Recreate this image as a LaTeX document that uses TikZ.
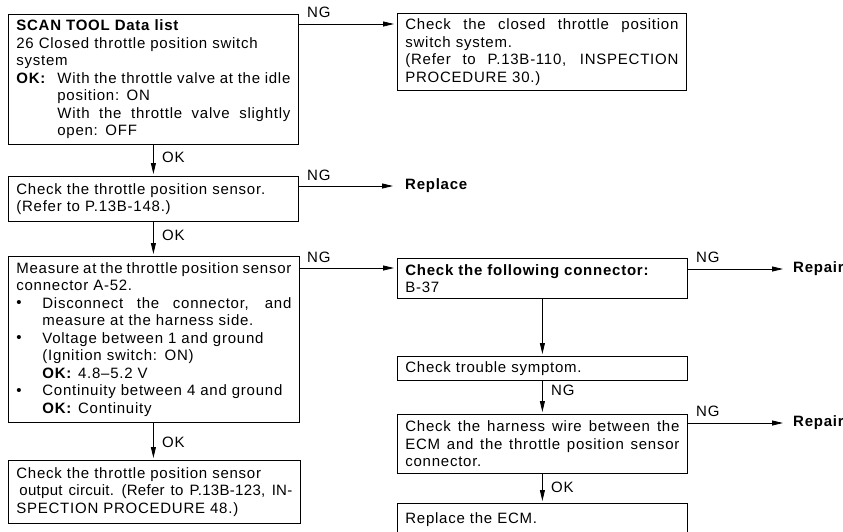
\documentclass[tikz,border=0pt]{standalone}
\usepackage{fontspec}
\setmainfont{Liberation Sans}[LetterSpace=5]
\usetikzlibrary{arrows.meta}
\newcommand\stretchbox[2]{\makebox[#1][s]{\spaceskip=.28em plus 3em minus .1em\relax #2}}
\newcommand\fullline[2][0pt]{\hspace*{#1}\stretchbox{\dimexpr\hsize-#1\relax}{#2}}
\newcommand\bul[1]{\makebox[26pt][l]{\raisebox{0.5pt}{•}}#1}
\tikzset{
  box/.style={draw, line width=0.8pt, anchor=north west, inner xsep=8pt, inner ysep=0pt,
    align=left, font=\fontsize{15}{17.5}\selectfont},
  lab/.style={inner sep=0pt, font=\fontsize{15}{17.5}\selectfont},
  res/.style={inner sep=0pt, anchor=west, font=\fontsize{15}{17.5}\selectfont\bfseries},
  arr/.style={line width=0.8pt, -{Triangle[length=11pt,width=5pt]}},
}
\begin{document}
\begin{tikzpicture}[x=1pt,y=-1pt]
\useasboundingbox (0,0) rectangle (843,531);
\clip (0,0) rectangle (843,531);

% left column
\node[box, text width=274pt, minimum height=130pt] (b1) at (8,14) {%
\textbf{SCAN TOOL Data list}\\
26 Closed throttle position switch\\
system\\
\makebox[41pt][l]{\textbf{OK:}}\stretchbox{\dimexpr\hsize-41pt\relax}{With the throttle valve at the idle}\\
\hspace*{41pt}position: ON\\
\fullline[41pt]{With the throttle valve slightly}\\
\hspace*{41pt}open: OFF};

\node[box, text width=274pt, minimum height=45pt] (b2) at (8,176) {%
Check the throttle position sensor.\\
(Refer to P.13B-148.)};

\node[box, text width=275pt, minimum height=166pt] (b3) at (8,256) {%
\fullline{Measure at the throttle position sensor}\\
connector A-52.\\
\bul{\stretchbox{\dimexpr\hsize-26pt\relax}{Disconnect the connector, and}}\\
\hspace*{26pt}measure at the harness side.\\
\bul{Voltage between 1 and ground}\\
\hspace*{26pt}(Ignition switch: ON)\\
\hspace*{26pt}\textbf{OK:}\hspace{6pt}4.8–5.2 V\\
\bul{Continuity between 4 and ground}\\
\hspace*{26pt}\textbf{OK:}\hspace{6pt}Continuity};

\node[box, text width=276pt, minimum height=63pt] (b8) at (8,460) {%
Check the throttle position sensor\\
{\addfontfeature{LetterSpace=2}\fullline[3pt]{output circuit. (Refer to P.13B-123, IN-}}\\
SPECTION PROCEDURE 48.)};

% right column
\node[box, text width=273pt, minimum height=77pt] (rb1) at (397,13) {%
\fullline{Check the closed throttle position}\\
switch system.\\
\fullline{(Refer to P.13B-110, INSPECTION}\\
PROCEDURE 30.)};

\node[res] (rep1) at (405,186) {Replace};

\node[box, text width=274pt, minimum height=40pt] (rb2) at (397,258) {%
\textbf{Check the following connector:}\\
B-37};

\node[res] (rep2) at (793,269) {Repair};

\node[box, text width=274pt, minimum height=24pt] (rb3) at (397,356) {%
Check trouble symptom.};

\node[box, text width=274pt, minimum height=59pt] (rb4) at (397,414) {%
\fullline{Check the harness wire between the}\\
\fullline{ECM and the throttle position sensor}\\
connector.};

\node[res] (rep3) at (793,423) {Repair};

\node[box, text width=274pt, minimum height=36pt] (rb5) at (397,503) {%
\raisebox{6pt}{Replace the ECM.}};

% horizontal NG connectors
\coordinate (s1) at ([yshift=-10pt]b1.north east);
\draw[arr, shorten >=3pt] (s1) -- (s1 -| rb1.west);
\node[lab, anchor=west] (ng1) at (307,12) {NG};

\coordinate (s2) at ([yshift=-10pt]b2.north east);
\draw[arr, shorten >=12pt] (s2) -- (s2 -| rep1.west);
\node[lab, anchor=west] (ng2) at (307,175) {NG};

\coordinate (s3) at ([yshift=-12pt]b3.north east);
\draw[arr, shorten >=3pt] (s3) -- (s3 -| rb2.west);
\node[lab, anchor=west] (ng3) at (307,257) {NG};

\coordinate (s4) at ([yshift=-11pt]rb2.north east);
\draw[arr, shorten >=10pt] (s4) -- (s4 -| rep2.west);
\node[lab, anchor=west] (ng4) at (696,257) {NG};

\coordinate (s5) at ([yshift=-9pt]rb4.north east);
\draw[arr, shorten >=10pt] (s5) -- (s5 -| rep3.west);
\node[lab, anchor=west] (ng5) at (696,411) {NG};

% vertical connectors
\draw[arr, shorten >=2pt] (b1.south) -- (b2.north);
\node[lab, anchor=west] (ok1) at (162,157) {OK};
\draw[arr, shorten >=2pt] (b2.south) -- (b2.south |- b3.north);
\node[lab, anchor=west] (ok2) at (162,235) {OK};
\draw[arr, shorten >=2pt] (b3.south -| b2.south) -- (b2.south |- b8.north);
\node[lab, anchor=west] (ok3) at (162,442) {OK};

\draw[arr, shorten >=2pt] (rb2.south) -- (rb3.north);
\draw[arr, shorten >=2pt] (rb3.south) -- (rb4.north);
\node[lab, anchor=west] (ng6) at (551,390) {NG};
\draw[arr, shorten >=2pt] (rb4.south) -- (rb5.north);
\node[lab, anchor=west] (ok4) at (551,487) {OK};
\end{tikzpicture}
\end{document}
